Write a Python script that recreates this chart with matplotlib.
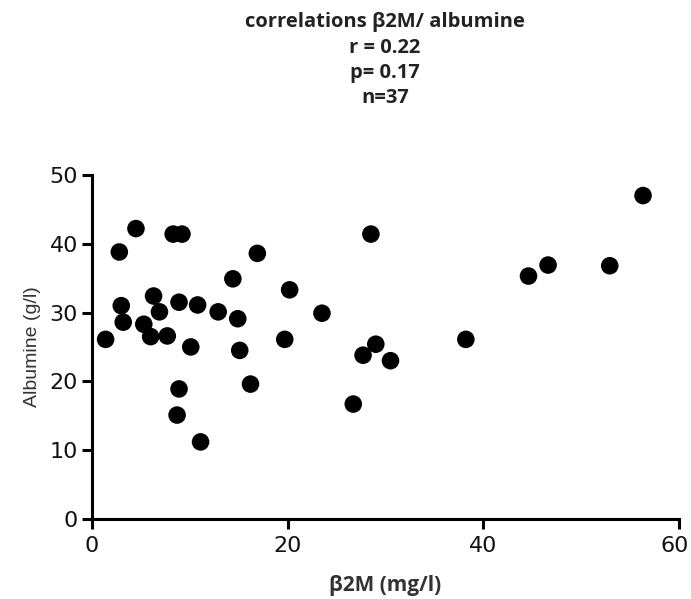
import matplotlib
matplotlib.use("Agg")
import matplotlib.pyplot as plt
from matplotlib.transforms import ScaledTranslation

b2m = [1.4, 2.8, 3.0, 3.2, 4.5, 5.3, 6.0, 6.3, 6.9, 7.7, 8.3, 9.2, 8.9, 8.7, 8.9,
       10.1, 10.8, 11.1, 12.9, 14.4, 14.9, 15.1, 16.2, 16.9, 19.7, 20.2, 23.5,
       26.7, 27.7, 28.5, 29.0, 30.5, 38.2, 44.6, 46.6, 52.9, 56.3]
albumine = [26.1, 38.8, 31.0, 28.6, 42.2, 28.3, 26.5, 32.4, 30.1, 26.6, 41.4, 41.4,
            31.5, 15.1, 18.9, 25.0, 31.1, 11.2, 30.1, 34.9, 29.1, 24.5, 19.6, 38.6,
            26.1, 33.3, 29.9, 16.7, 23.8, 41.4, 25.4, 23.0, 26.1, 35.3, 36.9, 36.8, 47.0]
xticks = [0, 20, 40, 60]
yticks = [0, 10, 20, 30, 40, 50]

fig = plt.figure(figsize=(6.91, 5.99), dpi=100)
ax = fig.add_axes([0.133, 0.1336, 0.850, 0.5744])
ax.scatter(b2m, albumine, s=160, color="black", edgecolors="none", zorder=3, clip_on=False)
ax.set_xlim(0, 60)
ax.set_ylim(0, 50)
ax.set_xticks(xticks)
ax.set_yticks(yticks)
for s in ["top", "right"]:
    ax.spines[s].set_visible(False)
for s in ["left", "bottom"]:
    ax.spines[s].set_linewidth(2.2)
ax.tick_params(width=2.2, length=7, direction="out", labelsize=16, pad=3,
               labelcolor="#111111")
ax.tick_params(axis="x", pad=5)
for lbl in ax.get_xticklabels() + ax.get_yticklabels():
    lbl.set_fontfamily("DejaVu Sans")
last = ax.get_xticklabels()[-1]
last.set_transform(last.get_transform() + ScaledTranslation(-5 / 100, 0, fig.dpi_scale_trans))

ax.set_xlabel("β2M (mg/l)", fontsize=15, fontweight="bold", fontfamily="Open Sans",
              color="#333333", labelpad=14)
ax.set_ylabel("Albumine (g/l)", fontsize=14, fontfamily="Liberation Sans",
              color="#333333", labelpad=6)

title_lines = ["correlations β2M/ albumine", "r = 0.22", "p= 0.17", "n=37"]
ys = [22, 48, 73, 98]
for t, y in zip(title_lines, ys):
    fig.text(385 / 691, 1 - y / 599, t, ha="center", va="center", fontsize=14.5,
             fontweight="bold", fontfamily="Open Sans", color="#222222")

fig.savefig("out.png", dpi=100)
